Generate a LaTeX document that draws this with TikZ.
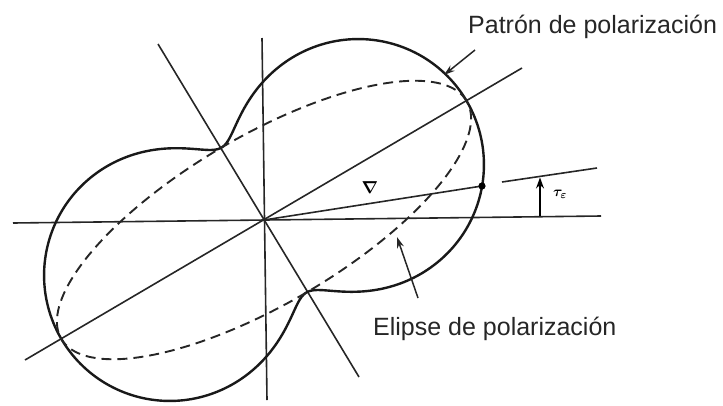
\documentclass[tikz,border=0pt]{standalone}
\usepackage{fontspec}
\setmainfont{Liberation Sans}
\usetikzlibrary{arrows.meta}
\begin{document}
\begin{tikzpicture}[x=1pt,y=-1pt,
  axisline/.style={line width=1.6pt, draw=black!85},
  patternline/.style={line width=2.4pt, draw=black!90},
  ellipseline/.style={line width=1.9pt, draw=black!85, dash pattern=on 10pt off 6pt},
  pointer/.style={line width=1.5pt, draw=black!85, -{Stealth[length=11pt,width=7pt]}},
  labeltext/.style={font=\fontsize{25}{30}\selectfont, text=black!85, inner sep=0pt},
  declare function={pr(\t)=10*sqrt(552.25*cos(\t-30.4)^2+70.56*sin(\t-30.4)^2);}]
\useasboundingbox (0,0) rectangle (723,405);
% key points
\coordinate (O) at (264,220);
\coordinate (hL) at (13,223);  \coordinate (hR) at (601,216);
\coordinate (vT) at (262,38);  \coordinate (vB) at (267,400);
\coordinate (mL) at (25,360);  \coordinate (mR) at (522,68);
\coordinate (nT) at (158,44);  \coordinate (nB) at (359,377);
\coordinate (P) at (482,186);
\coordinate (tL) at (502,182); \coordinate (tR) at (597,168);
\coordinate (aB) at (540,216); \coordinate (aT) at (540,177.5);
\coordinate (pa1) at (475,50); \coordinate (pa2) at (444,75);
\coordinate (ea1) at (418,298); \coordinate (ea2) at (397,237);
% axes
\draw[axisline] (hL) -- (hR);
\draw[axisline] (vT) -- (vB);
\draw[axisline] (mL) -- (mR);
\draw[axisline] (nT) -- (nB);
\draw[axisline] (O) -- (P);
\draw[axisline] (tL) -- (tR);
% polarization pattern
\draw[patternline] plot[domain=0:360, samples=361, smooth]
  ({264+pr(\x)*cos(\x)},{220-pr(\x)*sin(\x)}) -- cycle;
% polarization ellipse
\draw[ellipseline] plot[domain=0:360, samples=181, smooth]
  ({264+235*cos(\x)*cos(30.4)-84*sin(\x)*sin(30.4)},
   {220-(235*cos(\x)*sin(30.4)+84*sin(\x)*cos(30.4))}) -- cycle;
% point on pattern
\fill[black] (P) circle (3.6pt);
% tau arrow
\draw[line width=1.2pt, -{Stealth[length=11pt,width=8pt]}] (aB) -- (aT);
\node[inner sep=0pt, font=\fontsize{15}{17}\selectfont\boldmath] (tau) at (560,194) {$\tau_\varepsilon$};
\node[inner sep=0pt, font=\fontsize{16}{18}\selectfont\boldmath] (nab) at (370,188) {$\nabla$};
% labels and pointers
\node[labeltext, anchor=base west] (lp) at (468,33) {Patrón de polarización};
\node[labeltext, anchor=base west] (le) at (373,335) {Elipse de polarización};
\draw[pointer] (pa1) -- (pa2);
\draw[pointer] (ea1) -- (ea2);
\end{tikzpicture}
\end{document}
